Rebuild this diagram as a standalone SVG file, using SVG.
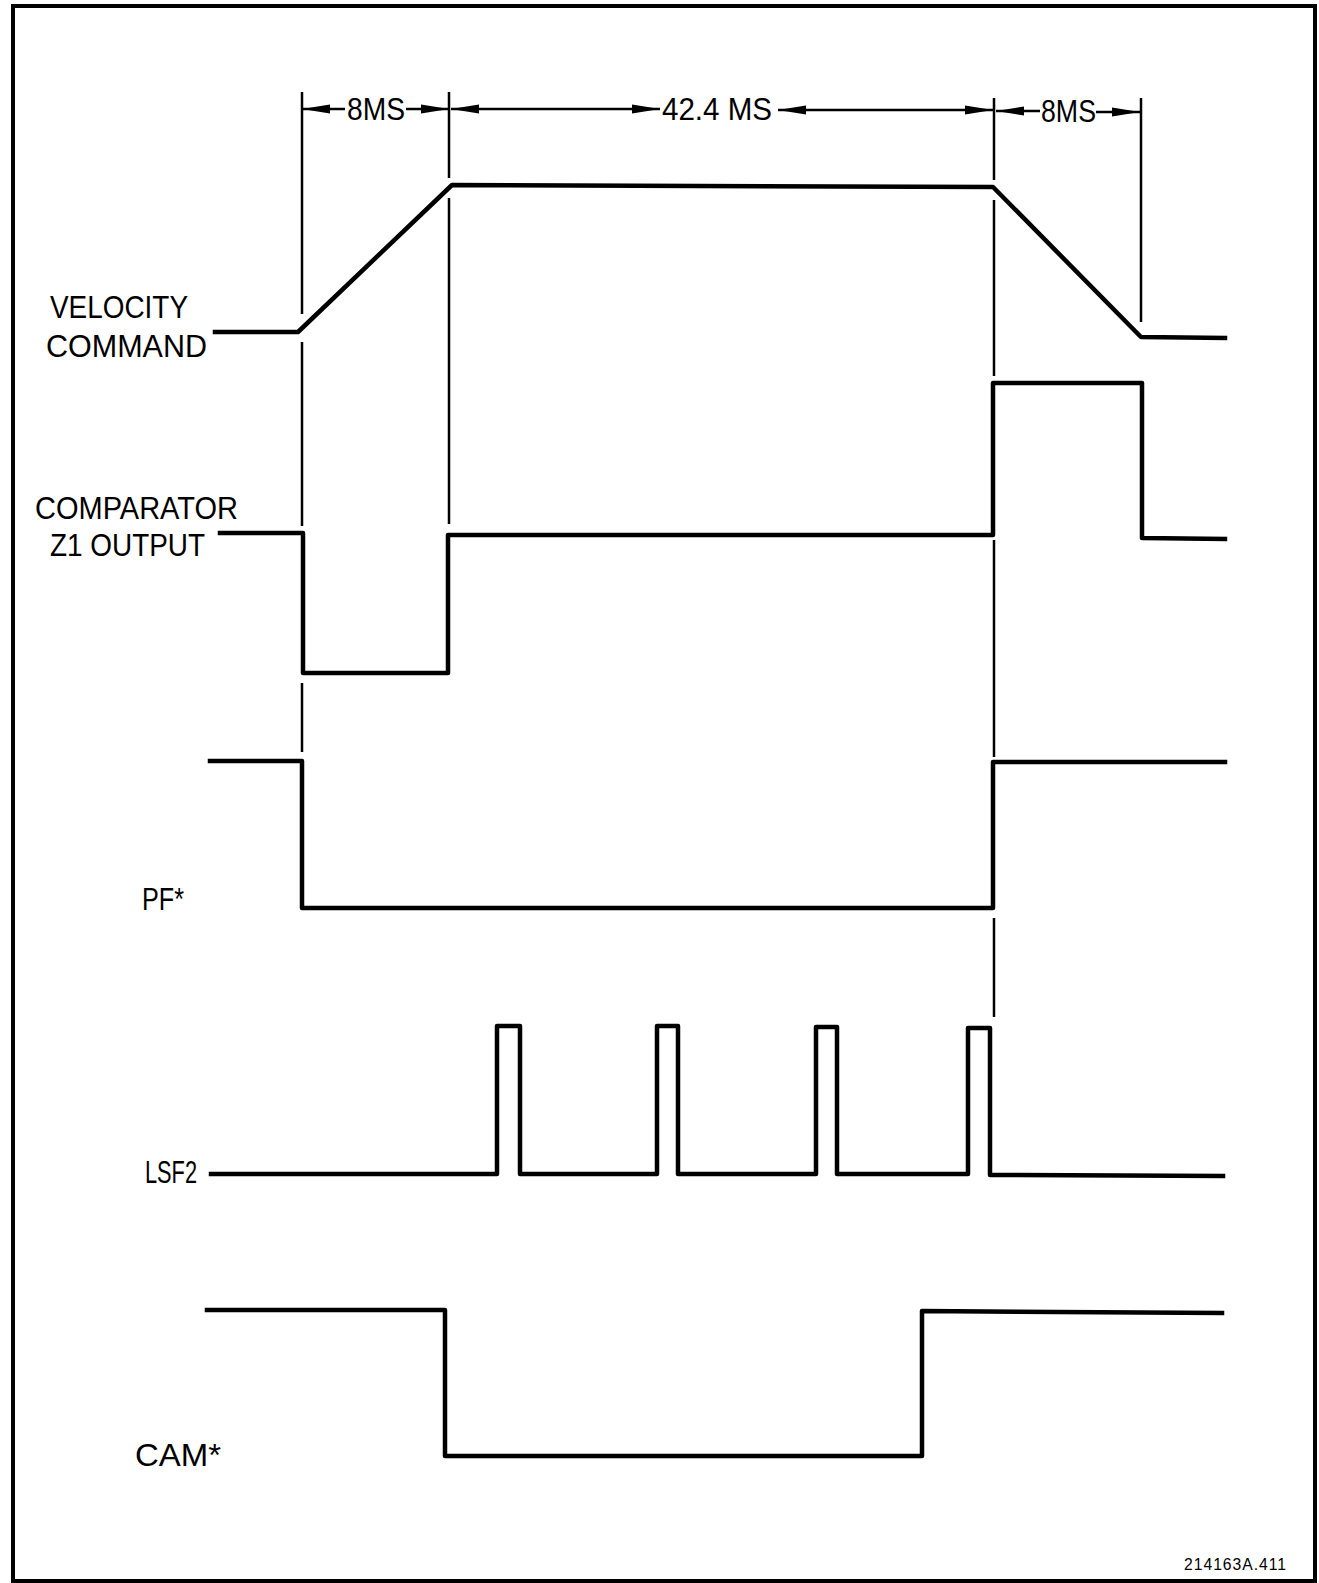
<svg xmlns="http://www.w3.org/2000/svg" width="1319" height="1583" viewBox="0 0 1319 1583">
<style>
.wave{fill:none;stroke:#000;stroke-width:4.5;stroke-linejoin:round;stroke-linecap:square}
.ext{fill:none;stroke:#000;stroke-width:2.5}
.dim{fill:none;stroke:#000;stroke-width:2.5}
.lbl{font-family:"Liberation Sans",Arial,sans-serif;font-size:31px;fill:#000}
.small{font-family:"Liberation Sans",Arial,sans-serif;font-size:16px;fill:#000;letter-spacing:1px}
</style>
<defs>
<marker id="ah" markerUnits="userSpaceOnUse" markerWidth="30" markerHeight="10" refX="28" refY="5" orient="auto-start-reverse">
<path d="M0,0.5 L28,5 L0,9.5 z" fill="#000"/>
</marker>
</defs>
<rect x="13" y="6" width="1302" height="1575" fill="#fff" stroke="#000" stroke-width="4"/>

<g id="connectors">
<g id="extension-lines">
<path class="ext" d="M302,92 V314 M302,342 V526 M302,683 V752"/>
<path class="ext" d="M449,92 V178 M449,198 V524"/>
<path class="ext" d="M994,98 V180 M994,200 V376 M994,540 V757 M994,918 V1017"/>
<path class="ext" d="M1141,98 V322"/>
</g>
<g id="dimensions">
<line class="dim" x1="302" y1="109" x2="345" y2="109" marker-start="url(#ah)"/>
<line class="dim" x1="406" y1="109" x2="449" y2="109" marker-end="url(#ah)"/>
<line class="dim" x1="451" y1="109" x2="660" y2="109" marker-start="url(#ah)" marker-end="url(#ah)"/>
<line class="dim" x1="778" y1="110" x2="993" y2="110" marker-start="url(#ah)" marker-end="url(#ah)"/>
<line class="dim" x1="996" y1="111" x2="1040" y2="111" marker-start="url(#ah)"/>
<line class="dim" x1="1096" y1="112" x2="1140" y2="112" marker-end="url(#ah)"/>
<text class="lbl" x="347" y="120" textLength="58" lengthAdjust="spacingAndGlyphs">8MS</text>
<text class="lbl" x="662" y="120" textLength="110" lengthAdjust="spacingAndGlyphs">42.4 MS</text>
<text class="lbl" x="1041" y="122" textLength="55" lengthAdjust="spacingAndGlyphs">8MS</text>
</g>
</g>

<g id="velocity-command">
<text class="lbl" x="50" y="318" textLength="138" lengthAdjust="spacingAndGlyphs">VELOCITY</text>
<text class="lbl" x="46" y="357" textLength="161" lengthAdjust="spacingAndGlyphs">COMMAND</text>
<polyline class="wave" points="215,332 298,332 452,185 993,187 1141,337 1225,338"/>
</g>

<g id="comparator-z1-output">
<text class="lbl" x="35" y="519" textLength="203" lengthAdjust="spacingAndGlyphs">COMPARATOR</text>
<text class="lbl" x="50" y="556" textLength="155" lengthAdjust="spacingAndGlyphs">Z1 OUTPUT</text>
<polyline class="wave" points="220,533 303,533 303,673 448,673 448,535 993,535 993,383 1142,383 1142,538 1225,539"/>
</g>

<g id="pf">
<text class="lbl" x="142" y="910" textLength="42" lengthAdjust="spacingAndGlyphs">PF*</text>
<polyline class="wave" points="210,761 302,761 302,908 993,908 993,762 1225,762"/>
</g>

<g id="lsf2">
<text class="lbl" x="145" y="1183" textLength="52" lengthAdjust="spacingAndGlyphs">LSF2</text>
<polyline class="wave" points="211,1174 497,1174 497,1026 520,1026 520,1174 657,1174 657,1026 678,1026 678,1174 816,1174 816,1027 837,1027 837,1174 968,1174 968,1028 990,1028 990,1175 1223,1176"/>
</g>

<g id="cam">
<text class="lbl" x="135" y="1466" textLength="86" lengthAdjust="spacingAndGlyphs">CAM*</text>
<polyline class="wave" points="207,1310 445,1310 445,1456 922,1456 922,1311 1222,1313"/>
</g>

<text class="small" x="1184" y="1570" textLength="103" lengthAdjust="spacingAndGlyphs">214163A.411</text>
</svg>
